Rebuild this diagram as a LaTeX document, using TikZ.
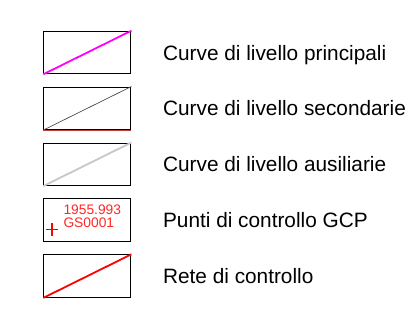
\documentclass[tikz,border=0pt]{standalone}
\usepackage{fontspec}
\setmainfont{Liberation Sans}
\usetikzlibrary{positioning}
\definecolor{gcpred}{RGB}{255,40,40}
\definecolor{lowred}{RGB}{190,60,60}
\definecolor{mainmag}{RGB}{255,0,255}
\definecolor{netred}{RGB}{255,0,0}

\begin{document}
\begin{tikzpicture}[x=1pt,y=-1pt,
  legbox/.style={draw,line width=1.1pt,minimum width=87pt,minimum height=42.5pt,inner sep=0pt,anchor=north west},
  legtext/.style={anchor=base west,inner sep=0pt,font=\fontsize{20.8}{25}\selectfont},
  gcptext/.style={gcpred,anchor=base west,inner sep=0pt,font=\fontsize{13.8}{14}\selectfont}]
  \useasboundingbox (0,0) rectangle (410,324);
  % caselle della legenda
  \node[legbox] (b1) at (43.3,30.7) {};
  \node[legbox] (b2) at (43.3,86.5) {};
  \node[legbox] (b3) at (43.3,142.5) {};
  \node[legbox] (b4) at (43.3,198.3) {};
  \node[legbox] (b5) at (43.3,254.3) {};
  % simboli
  \draw[mainmag,line width=1.8pt] (b1.south west) -- (b1.north east);
  \draw[black!70,line width=0.7pt] (b2.south west) -- (b2.north east);
  \draw[lowred,line width=0.9pt] (b2.south west) -- (b2.south east);
  \draw[black!22,line width=1.8pt] (b3.south west) -- (b3.north east);
  \draw[netred,line width=1.8pt] (b5.south west) -- (b5.north east);
  \node[gcptext] (quota) at (63.3,214) {1955.993};
  \node[gcptext] (sigla) at (63.3,227.7) {GS0001};
  \coordinate (cr) at (51.7,229.5);
  \draw[netred,line width=1.9pt] ([xshift=-6pt]cr) -- ([xshift=6pt]cr)
    ([yshift=-6.3pt]cr) -- ([yshift=6.3pt]cr);
  % testi
  \node[legtext] (t1) at ([xshift=31.5pt,yshift=-7.5pt]b1.east) {Curve di livello principali};
  \node[legtext] (t2) at ([xshift=31.5pt,yshift=-7.5pt]b2.east) {Curve di livello secondarie};
  \node[legtext] (t3) at ([xshift=31.5pt,yshift=-7.5pt]b3.east) {Curve di livello ausiliarie};
  \node[legtext] (t4) at ([xshift=31.5pt,yshift=-7.5pt]b4.east) {Punti di controllo GCP};
  \node[legtext] (t5) at ([xshift=31.5pt,yshift=-7.5pt]b5.east) {Rete di controllo};
\end{tikzpicture}
\end{document}
